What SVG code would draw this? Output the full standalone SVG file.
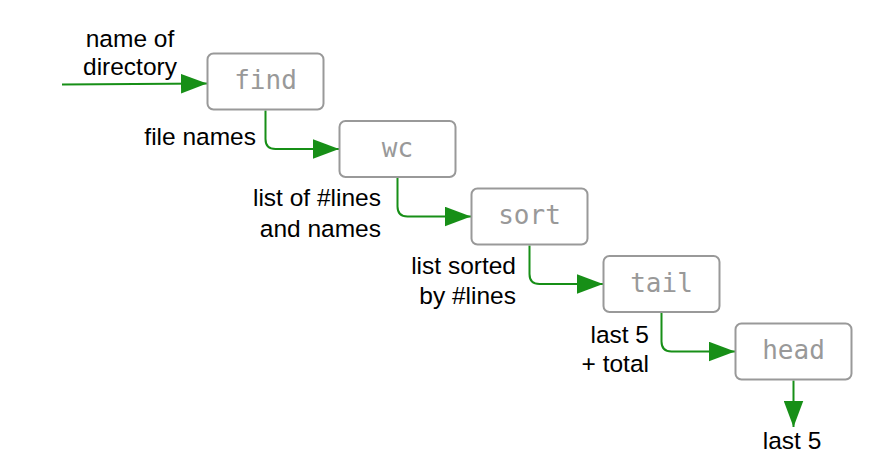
<svg xmlns="http://www.w3.org/2000/svg" width="892" height="468" viewBox="0 0 892 468">
<style>
.box{fill:#fff;stroke:#999;stroke-width:2}
.cmd{font-family:"DejaVu Sans Mono",monospace;font-size:26px;fill:#999;text-anchor:middle}
.lbl{font-family:"Liberation Sans",Arial,sans-serif;font-size:24.5px;fill:#000}
.r{text-anchor:end}
.m{text-anchor:middle}
.c{fill:none;stroke:#178f17;stroke-width:2}
</style>
<defs>
<marker id="ah" markerUnits="userSpaceOnUse" markerWidth="26" markerHeight="20" viewBox="0 0 24 18" refX="24" refY="9" orient="auto">
<path d="M0,0 L24,9 L0,18 Z" fill="#178f17"/>
</marker>
</defs>
<rect width="892" height="468" fill="#fff"/>
<g id="connectors">
<path class="c" d="M62,84.5 L207,83.5" marker-end="url(#ah)"/>
<path class="c" d="M265.5,110.5 V139 Q265.5,149 275.5,149 H339" marker-end="url(#ah)"/>
<path class="c" d="M397.5,178 V206.5 Q397.5,216.5 407.5,216.5 H471" marker-end="url(#ah)"/>
<path class="c" d="M529.5,245.5 V274 Q529.5,284 539.5,284 H603" marker-end="url(#ah)"/>
<path class="c" d="M661.5,313 V341.5 Q661.5,351.5 671.5,351.5 H735" marker-end="url(#ah)"/>
<path class="c" d="M793.5,380.5 V427" marker-end="url(#ah)"/>
</g>
<g id="find"><rect class="box" x="207.5" y="53.5" width="116" height="56" rx="6"/><text class="cmd" x="265.5" y="89">find</text></g>
<g id="wc"><rect class="box" x="339.5" y="121" width="116" height="56" rx="6"/><text class="cmd" x="397.5" y="156.5">wc</text></g>
<g id="sort"><rect class="box" x="471.5" y="188.5" width="116" height="56" rx="6"/><text class="cmd" x="529.5" y="224">sort</text></g>
<g id="tail"><rect class="box" x="603.5" y="256" width="116" height="56" rx="6"/><text class="cmd" x="661.5" y="291.5">tail</text></g>
<g id="head"><rect class="box" x="735.5" y="323.5" width="116" height="56" rx="6"/><text class="cmd" x="793.5" y="359">head</text></g>
<g id="labels">
<text class="lbl m" x="130" y="47">name of</text>
<text class="lbl m" x="130" y="75">directory</text>
<text class="lbl r" x="256" y="145">file names</text>
<text class="lbl r" x="381" y="206">list of #lines</text>
<text class="lbl r" x="381" y="236.5">and names</text>
<text class="lbl r" x="516" y="273.5">list sorted</text>
<text class="lbl r" x="516" y="304">by #lines</text>
<text class="lbl r" x="649" y="342.5">last 5</text>
<text class="lbl r" x="649" y="372">+ total</text>
<text class="lbl m" x="792" y="449">last 5</text>
</g>
</svg>
